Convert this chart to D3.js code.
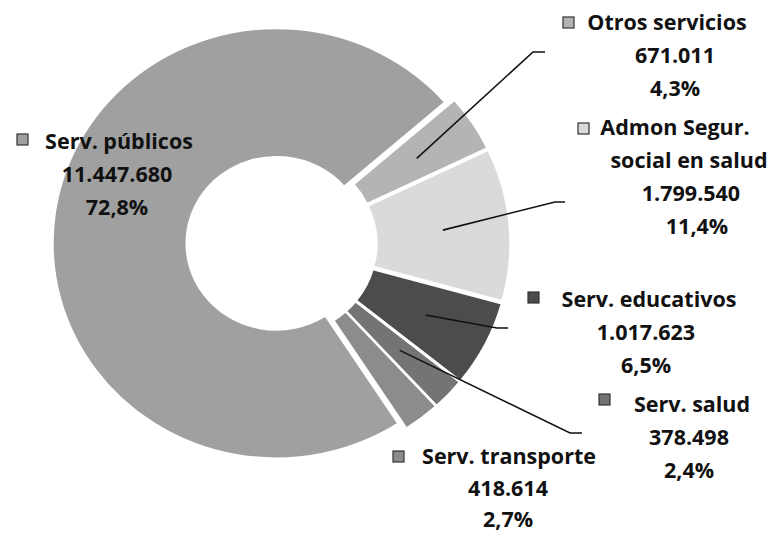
<!DOCTYPE html>
<html>
<head>
<meta charset="utf-8">
<script src="https://cdn.jsdelivr.net/npm/d3@7"></script>
<style>
  html, body { margin: 0; padding: 0; background: #fff; }
  svg { display: block; }
  text { font-family: "Open Sans", "Noto Sans", sans-serif; font-weight: 700; fill: #111; }
</style>
</head>
<body>
<script>
// ---- data ----
const categories = ["Serv. públicos", "Otros servicios", "Admon Segur.\nsocial en salud", "Serv. educativos", "Serv. salud", "Serv. transporte"];
const values = [11447680, 671011, 1799540, 1017623, 378498, 418614];
const colors = ["#a0a0a0", "#b4b4b4", "#dadada", "#4c4c4c", "#747474", "#8c8c8c"];

// ---- layout ----
const W = 773, H = 535;
const cx = 281.5, cy = 244, sx = 1.04;
const outerR = 215, innerR = 86.5, explode = 5;
const startDeg = 147;
const fontSize = 21.5;
// label layout: first-line text centre, other lines centre, first baseline, line step, marker x/y, leader bend points
const labelLayout = [
  { t1: 119, tc: 117, y0: 149, lh: 33, mx: 17, my: 134, leader: null },
  { t1: 667, tc: 675, y0: 30,  lh: 33, mx: 563, my: 17,  leader: [[533, 52], [545, 52]] },
  { t1: 675, tc: 691, y0: 135, lh: 33, mx: 578, my: 123, leader: [[555, 202], [565, 202]], tcs: [675, 689, 691, 697] },
  { t1: 649, tc: 646, y0: 307, lh: 33, mx: 528, my: 292, leader: [[497, 328], [508, 328]] },
  { t1: 692, tc: 689, y0: 412, lh: 33, mx: 599, my: 394, leader: [[570, 433], [582, 433]] },
  { t1: 509, tc: 508, y0: 464, lh: 31.5, mx: 393, my: 451, leader: null }
];

const loc = d3.formatLocale({ decimal: ",", thousands: ".", grouping: [3], currency: ["$", ""] });
const fmtNum = loc.format(",.0f");
const fmtPct = loc.format(".1%");
const total = d3.sum(values);

const svg = d3.select("body").append("svg").attr("width", W).attr("height", H);

const pie = d3.pie().sort(null).value(d => d)
  .startAngle(startDeg * Math.PI / 180)
  .endAngle(startDeg * Math.PI / 180 + 2 * Math.PI);
const arcs = pie(values);
const arc = d3.arc().innerRadius(innerR).outerRadius(outerR);

const g = svg.append("g").attr("transform", `translate(${cx},${cy}) scale(${sx},1)`);

function offset(a) {
  const m = (a.startAngle + a.endAngle) / 2;
  return [explode * Math.sin(m), -explode * Math.cos(m)];
}

g.selectAll("path.slice").data(arcs).join("path")
  .attr("class", "slice")
  .attr("d", arc)
  .attr("transform", d => { const o = offset(d); return `translate(${o[0]},${o[1]})`; })
  .attr("fill", (d, i) => colors[i])
  .attr("stroke", "#ffffff")
  .attr("stroke-width", 1.8)
  .attr("stroke-linejoin", "round");

// leader lines: from slice centroid (screen coords) to label bend
const lblArc = d3.arc().innerRadius(innerR + explode).outerRadius(outerR + explode);
arcs.forEach((a, i) => {
  const L = labelLayout[i];
  if (!L.leader) return;
  const c = lblArc.centroid(a);
  const p0 = [cx + sx * c[0], cy + c[1]];
  const pts = [p0].concat(L.leader);
  svg.append("path")
    .attr("d", d3.line()(pts))
    .attr("fill", "none")
    .attr("stroke", "#111")
    .attr("stroke-width", 1.6);
});

// labels
arcs.forEach((a, i) => {
  const L = labelLayout[i];
  const nameLines = categories[i].split("\n");
  const lines = nameLines.concat([fmtNum(values[i]), fmtPct(values[i] / total)]);
  lines.forEach((s, k) => {
    let x = k === 0 ? L.t1 : L.tc;
    if (L.tcs) x = L.tcs[k];
    svg.append("text")
      .attr("x", x)
      .attr("y", L.y0 + k * L.lh)
      .attr("text-anchor", "middle")
      .attr("font-size", fontSize)
      .text(s);
  });
  svg.append("rect")
    .attr("x", L.mx).attr("y", L.my)
    .attr("width", 11).attr("height", 11)
    .attr("fill", colors[i])
    .attr("stroke", "#333")
    .attr("stroke-width", 1.2);
});
</script>
</body>
</html>
